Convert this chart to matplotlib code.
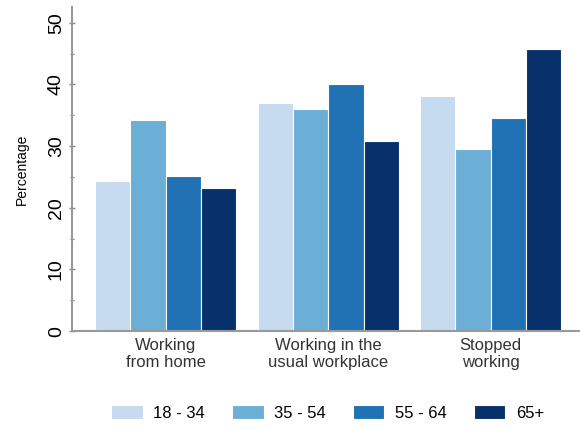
import matplotlib.pyplot as plt
import numpy as np
from matplotlib.ticker import MultipleLocator

plt.rcParams['font.family'] = ['Liberation Sans', 'DejaVu Sans']

categories = ['Working\nfrom home', 'Working in the\nusual workplace', 'Stopped\nworking']
age_groups = ['18 - 34', '35 - 54', '55 - 64', '65+']
age_18_34 = [24.4, 37.0, 38.1]
age_35_54 = [34.2, 36.0, 29.6]
age_55_64 = [25.1, 40.1, 34.6]
age_65_up = [23.2, 30.8, 45.7]
colors = ['#c6dbef', '#6baed6', '#2171b5', '#08306b']

series = [age_18_34, age_35_54, age_55_64, age_65_up]

fig = plt.figure(figsize=(5.8, 4.29), dpi=100)
ax = fig.add_axes([0.124, 0.228, 0.876, 0.755])

x = np.arange(len(categories))
w = 0.2175
for i, vals in enumerate(series):
    ax.bar(x + (i - 1.5) * w, vals, width=w, color=colors[i],
           edgecolor='white', linewidth=0.8, label=age_groups[i])

ax.set_xlim(-0.578, 2.55)
ax.set_ylim(0, 52.5)
ax.set_xticks(x)
ax.set_xticklabels(categories, fontsize=12, color='#333333', linespacing=1.15)
ax.tick_params(axis='x', length=0, pad=5)

ax.yaxis.set_major_locator(MultipleLocator(10))
ax.yaxis.set_minor_locator(MultipleLocator(5))
ax.tick_params(axis='y', which='major', direction='inout', length=4, width=1,
               color='#888888', labelsize=14, pad=3)
ax.tick_params(axis='y', which='minor', direction='inout', length=3, width=0.8,
               color='#888888')
for lab in ax.get_yticklabels():
    lab.set_rotation(90)
    lab.set_va('center')
ax.set_ylabel('Percentage', fontsize=10, labelpad=14)

for s in ['top', 'right']:
    ax.spines[s].set_visible(False)
for s in ['left', 'bottom']:
    ax.spines[s].set_color('#999999')
    ax.spines[s].set_linewidth(1.5)

fig.legend(loc='center', bbox_to_anchor=(0.565, 0.037), ncol=4, frameon=False,
           fontsize=12, handlelength=1.9, handleheight=0.9, columnspacing=1.6,
           handletextpad=0.65)

fig.savefig('out.png', dpi=100)
